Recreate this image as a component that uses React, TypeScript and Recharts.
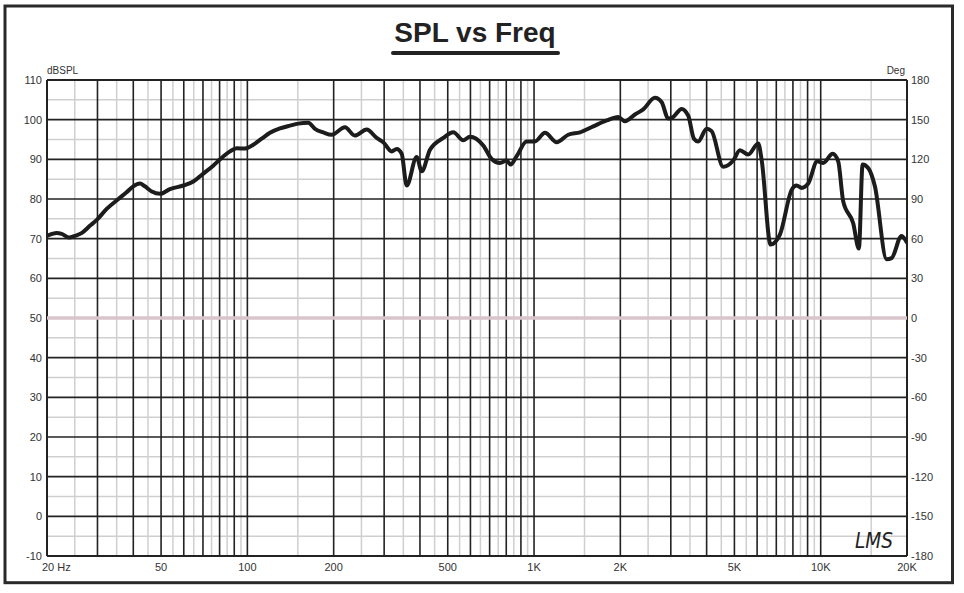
import React from "react";
import { LineChart, Line, XAxis, YAxis, ReferenceLine } from "recharts";

const freqs = [
  20, 21.6, 22.5, 23.9, 25.0, 26.4, 28.3, 29.9, 32.3, 35.5, 37.9, 40, 42.2, 43.9, 46.4, 49.6,
  53.7, 59.8, 64.8, 70.2, 76.0, 81.4, 87.0, 91.8, 98.1, 104.9, 112.2, 119.9, 129.9, 140.8,
  150.4, 163.1, 172.1, 183.9, 196.8, 219, 237, 260.7, 282.5, 297.9, 318.8, 331.8, 345.4,
  359.5, 389.6, 405.5, 433.5, 482.4, 522.8, 566.2, 597.6, 665, 711.4, 760.4, 802.3, 828.7,
  869.6, 942.4, 1007, 1092, 1199, 1316, 1446, 1609, 1792, 1966, 2076, 2249, 2404, 2641, 2788,
  2938, 3058, 3272, 3450, 3612, 3738, 4000, 4164, 4570, 4952, 5226, 5586, 6053, 6222, 6688,
  7206, 7918, 8242, 8580, 9046, 9724, 10204, 11008, 11508, 11982, 12982, 13590, 14000, 14642,
  15454, 16978, 17672, 19144, 20000,
];

const splValues = [
  70.7, 71.4, 71.2, 70.3, 70.7, 71.4, 73.3, 74.8, 77.5, 80, 81.7, 83.2, 83.9, 83.2, 81.9, 81.3,
  82.5, 83.4, 84.4, 86.4, 88.4, 90.4, 92, 92.8, 92.7, 93.7, 95.2, 96.7, 97.8, 98.5,
  99, 99.2, 97.7, 96.8, 96.2, 98.1, 96, 97.5, 95.4, 94.3, 92, 92.6, 91.4,
  83.4, 90.6, 87, 92.4, 95.4, 96.8, 94.8, 95.7, 93.5, 90.1, 89.1, 89.7, 88.7,
  90.8, 94.5, 94.5, 96.7, 94.3, 96.2, 96.8, 98.3, 99.8, 100.7, 99.6, 101.3, 102.6, 105.5, 104.4,
  100.3, 100.7, 102.7, 101, 95.2, 94.5, 97.7, 97.1, 88.1, 89.7, 92.3, 91.2, 94, 89.9, 68.5,
  71, 82.3, 83.4, 82.8, 83.9, 89.5, 89.1, 91.4, 89.5, 79.4, 73.9, 67.5, 88.7, 87.8,
  83.2, 64.8, 65.1, 70.7, 69,
];

// phase trace (flat at 0 deg)
const phaseFreqs = [20, 20000];
const phaseDeg = [0, 0];

const xTicks = [20, 50, 100, 200, 500, 1000, 2000, 5000, 10000, 20000];
const splTicks = [-10, 0, 10, 20, 30, 40, 50, 60, 70, 80, 90, 100, 110];
const degTicks = [-180, -150, -120, -90, -60, -30, 0, 30, 60, 90, 120, 150, 180];

const darkFreqs = [
  30, 40, 50, 60, 70, 80, 90, 100, 200, 300, 400, 500, 600, 700, 800, 900, 1000,
  2000, 3000, 4000, 5000, 6000, 7000, 8000, 9000, 10000,
];
const lightFreqs = [
  25, 35, 45, 55, 65, 75, 85, 95, 150, 250, 350, 450, 550, 650, 750, 850, 950,
  1500, 2500, 3500, 4500, 5500, 6500, 7500, 8500, 9500, 15000,
];
const darkLevels = [0, 10, 20, 30, 40, 50, 60, 70, 80, 90, 100];
const lightLevels = [-5, 5, 15, 25, 35, 45, 55, 65, 75, 85, 95, 105];

const data = freqs.map((f, i) => ({ f, spl: splValues[i] }));
const phaseData = phaseFreqs.map((f, i) => ({ f, deg: phaseDeg[i] }));

const FONT = "'Liberation Sans', Arial, sans-serif";
const TXT = "#333";

function XTick(props: any) {
  const { x, y, payload } = props;
  const v = payload.value;
  const label = v === 20 ? "20 Hz" : v >= 1000 ? `${v / 1000}K` : String(v);
  const isFirst = v === 20;
  return (
    <text
      x={isFirst ? x - 5 : x}
      y={y}
      dy="0.71em"
      textAnchor={isFirst ? "start" : "middle"}
      fill={TXT}
      fontSize={11}
      fontFamily={FONT}
    >
      {label}
    </text>
  );
}

function RTick(props: any) {
  const { x, y, payload } = props;
  return (
    <text x={x} y={y} dy="0.355em" textAnchor="start" fill={TXT} fontSize={11} fontFamily={FONT}>
      {payload.value}
    </text>
  );
}

export default function App() {
  return (
    <div
      style={{
        position: "absolute",
        left: 0,
        top: 0,
        width: 964,
        height: 593,
        background: "#fff",
        overflow: "hidden",
      }}
    >
      <div style={{ position: "absolute", left: 0, top: 0 }}>
        <LineChart
          width={964}
          height={593}
          data={data}
          margin={{ top: 80, right: 7, bottom: 7, left: 7 }}
        >
          <XAxis
            dataKey="f"
            type="number"
            scale="log"
            domain={[20, 20000]}
            ticks={xTicks}
            interval={0}
            axisLine={false}
            tickLine={false}
            tickSize={0}
            tickMargin={7}
            height={30}
            tick={<XTick />}
            allowDataOverflow
          />
          <YAxis
            yAxisId="l"
            type="number"
            domain={[-10, 110]}
            ticks={splTicks}
            interval={0}
            axisLine={false}
            tickLine={false}
            tickSize={0}
            tickMargin={5}
            width={40}
            allowDataOverflow
            tick={{ fill: TXT, fontSize: 11, fontFamily: FONT }}
          />
          <YAxis
            yAxisId="r"
            orientation="right"
            type="number"
            domain={[-180, 180]}
            ticks={degTicks}
            interval={0}
            axisLine={false}
            tickLine={false}
            tickSize={0}
            tickMargin={4}
            width={50}
            allowDataOverflow
            tick={<RTick />}
          />
          {lightFreqs.map((f) => (
            <ReferenceLine key={`lf${f}`} x={f} yAxisId="l" stroke="#cfcfcf" strokeWidth={1.5} />
          ))}
          {lightLevels.map((v) => (
            <ReferenceLine key={`ll${v}`} y={v} yAxisId="l" stroke="#cfcfcf" strokeWidth={1.5} />
          ))}
          {darkFreqs.map((f) => (
            <ReferenceLine key={`df${f}`} x={f} yAxisId="l" stroke="#222" strokeWidth={1.6} />
          ))}
          {darkLevels.map((v) => (
            <ReferenceLine key={`dl${v}`} y={v} yAxisId="l" stroke="#222" strokeWidth={1.6} />
          ))}
          <ReferenceLine x={20} yAxisId="l" stroke="#222" strokeWidth={2} />
          <ReferenceLine x={20000} yAxisId="l" stroke="#222" strokeWidth={2} />
          <ReferenceLine y={110} yAxisId="l" stroke="#222" strokeWidth={2} />
          <ReferenceLine y={-10} yAxisId="l" stroke="#222" strokeWidth={2} />
          <Line
            yAxisId="r"
            data={phaseData}
            dataKey="deg"
            type="linear"
            stroke="#d8c4ca"
            strokeWidth={3.5}
            dot={false}
            isAnimationActive={false}
          />
          <Line
            yAxisId="l"
            dataKey="spl"
            type="monotone"
            stroke="#1c1c1c"
            strokeWidth={4}
            dot={false}
            strokeLinejoin="round"
            strokeLinecap="round"
            isAnimationActive={false}
          />
        </LineChart>
      </div>
      <svg
        width={964}
        height={593}
        style={{ position: "absolute", left: 0, top: 0, pointerEvents: "none" }}
      >
        <rect x={5} y={6} width={947.5} height={576.7} fill="none" stroke="#2a2a2a" strokeWidth={3} />
        <text
          x={475}
          y={42}
          textAnchor="middle"
          fontFamily={FONT}
          fontWeight="bold"
          fontSize={28}
          fill="#222"
        >
          SPL vs Freq
        </text>
        <line x1={393} y1={53} x2={558} y2={53} stroke="#222" strokeWidth={4} strokeLinecap="round" />
        <text x={47} y={74} fontFamily={FONT} fontSize={10} fill={TXT}>
          dBSPL
        </text>
        <text x={905} y={74} textAnchor="end" fontFamily={FONT} fontSize={10} fill={TXT}>
          Deg
        </text>
        <text
          x={855}
          y={548}
          fontFamily="'DejaVu Sans', sans-serif"
          fontStyle="italic"
          fontWeight={200}
          fontSize={22}
          fill="#222"
          textLength={38}
          lengthAdjust="spacingAndGlyphs"
        >
          LMS
        </text>
      </svg>
    </div>
  );
}
